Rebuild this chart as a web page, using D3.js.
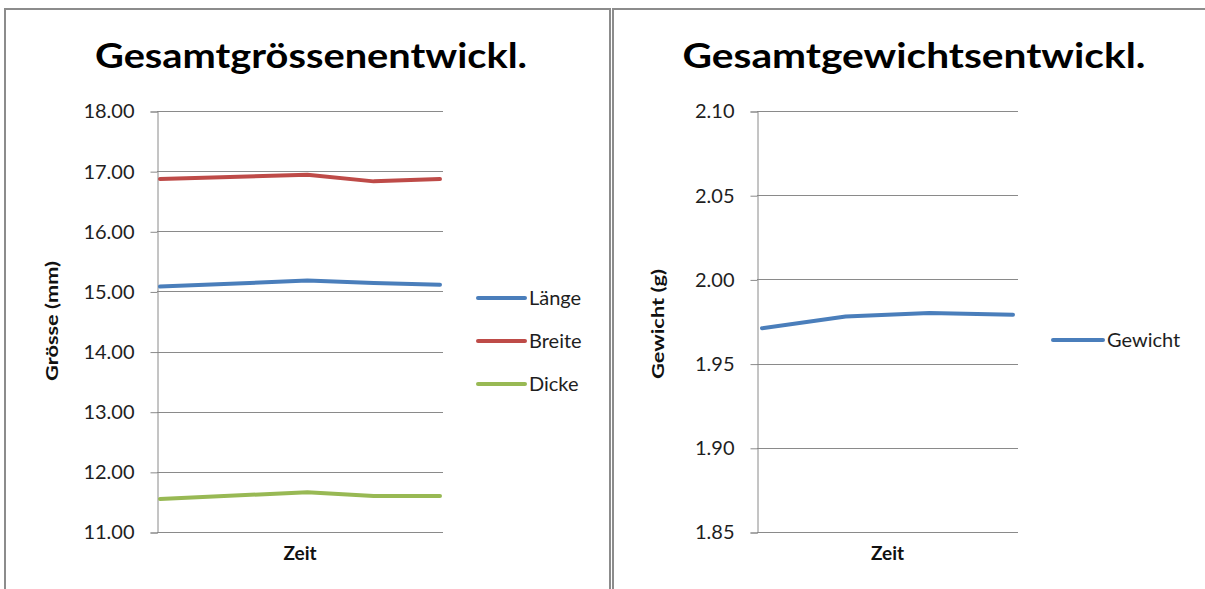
<!DOCTYPE html>
<html>
<head>
<meta charset="utf-8">
<script src="https://cdn.jsdelivr.net/npm/d3@7/dist/d3.min.js"></script>
<style>
  html, body { margin: 0; padding: 0; background: #ffffff; }
  svg { display: block; font-family: Lato, "Open Sans", sans-serif; }
</style>
</head>
<body>
<svg id="chart" width="1205" height="589"></svg>
<script>
// Messzeitpunkte (Tage) und Messwerte
const sizeDays = [0, 20, 29, 38];
const laenge = [15.08, 15.18, 15.14, 15.11];
const breite = [16.87, 16.94, 16.83, 16.87];
const dicke  = [11.55, 11.66, 11.60, 11.60];

const weightDays = [0, 10, 20, 30];
const gewicht = [1.971, 1.978, 1.980, 1.979];

const sizeTicks = [11, 12, 13, 14, 15, 16, 17, 18];
const weightTicks = [1.85, 1.90, 1.95, 2.00, 2.05, 2.10];

const sizeSeries = [
  { name: "Länge",  values: laenge, color: "#4a7ebb" },
  { name: "Breite", values: breite, color: "#be4b48" },
  { name: "Dicke",  values: dicke,  color: "#98b954" }
];
const weightSeries = [
  { name: "Gewicht", values: gewicht, color: "#4a7ebb" }
];

const svg = d3.select("#chart");
const gridColor = "#8a8a8a";

// Rahmen der beiden Diagramme
svg.append("rect").attr("x", 5).attr("y", 9).attr("width", 605).attr("height", 600)
  .attr("fill", "#fff").attr("stroke", "#8c8c8c").attr("stroke-width", 2);
svg.append("rect").attr("x", 613).attr("y", 9).attr("width", 610).attr("height", 600)
  .attr("fill", "#fff").attr("stroke", "#8c8c8c").attr("stroke-width", 2);

function drawPanel(cfg) {
  const g = svg.append("g");
  const x = d3.scaleLinear()
    .domain(d3.extent(cfg.days))
    .range([cfg.left + cfg.inset, cfg.right - cfg.inset]);
  const y = d3.scaleLinear()
    .domain([cfg.ticks[0], cfg.ticks[cfg.ticks.length - 1]])
    .range([cfg.bottom, cfg.top]);

  // Titel
  g.append("text")
    .attr("x", cfg.titleX).attr("y", 68)
    .attr("text-anchor", "middle")
    .attr("font-weight", "bold").attr("font-size", 34)
    .attr("textLength", cfg.titleWidth).attr("lengthAdjust", "spacingAndGlyphs")
    .attr("fill", "#000")
    .text(cfg.title);

  // Gitterlinien
  g.append("g").selectAll("line").data(cfg.ticks).join("line")
    .attr("x1", cfg.left).attr("x2", cfg.right)
    .attr("y1", d => Math.round(y(d)) + 0.5).attr("y2", d => Math.round(y(d)) + 0.5)
    .attr("stroke", gridColor).attr("stroke-width", 1);

  // Werteachse
  const yAxis = d3.axisLeft(y)
    .tickValues(cfg.ticks)
    .tickFormat(d3.format(".2f"))
    .tickSize(7)
    .tickPadding(16);
  const ya = g.append("g")
    .attr("transform", `translate(${cfg.left + 0.5},0.5)`)
    .call(yAxis);
  ya.select(".domain").attr("stroke", gridColor);
  ya.selectAll(".tick line").attr("stroke", gridColor);
  ya.selectAll(".tick text")
    .attr("font-size", 20).attr("fill", "#1e1e1e")
    .attr("font-family", "Lato, sans-serif");

  // Zeitachse
  g.append("line")
    .attr("x1", cfg.left).attr("x2", cfg.right)
    .attr("y1", cfg.bottom + 0.5).attr("y2", cfg.bottom + 0.5)
    .attr("stroke", gridColor);
  g.append("text")
    .attr("x", (cfg.left + cfg.right) / 2).attr("y", 560)
    .attr("text-anchor", "middle")
    .attr("font-weight", "bold").attr("font-size", 19)
    .attr("fill", "#111")
    .text("Zeit");

  // Achsentitel
  g.append("text")
    .attr("transform", `translate(${cfg.yTitleX},${cfg.yTitleY}) rotate(-90)`)
    .attr("text-anchor", "middle")
    .attr("font-weight", "bold").attr("font-size", 17)
    .attr("textLength", cfg.yTitleWidth).attr("lengthAdjust", "spacingAndGlyphs")
    .attr("fill", "#111")
    .text(cfg.yTitle);

  // Linien
  const line = d3.line()
    .x((d, i) => x(cfg.days[i]))
    .y(d => y(d));
  g.append("g").selectAll("path").data(cfg.series).join("path")
    .attr("d", s => line(s.values))
    .attr("fill", "none")
    .attr("stroke", s => s.color)
    .attr("stroke-width", 4)
    .attr("stroke-linejoin", "round")
    .attr("stroke-linecap", "round");

  // Legende
  const leg = g.append("g").selectAll("g").data(cfg.series).join("g")
    .attr("transform", (s, i) => `translate(${cfg.legX},${cfg.legY + i * 43})`);
  leg.append("line")
    .attr("x1", 0).attr("x2", cfg.legLen)
    .attr("y1", 0).attr("y2", 0)
    .attr("stroke", s => s.color).attr("stroke-width", 4)
    .attr("stroke-linecap", "round");
  leg.append("text")
    .attr("x", cfg.legLen + 4).attr("y", 7)
    .attr("font-size", 20).attr("fill", "#1e1e1e")
    .text(s => s.name);
}

drawPanel({
  title: "Gesamtgrössenentwickl.", titleX: 311, titleWidth: 432,
  days: sizeDays, ticks: sizeTicks, series: sizeSeries,
  left: 157, right: 443, top: 111, bottom: 532, inset: 3,
  yTitle: "Grösse (mm)", yTitleX: 58, yTitleY: 321, yTitleWidth: 120,
  legX: 478, legY: 298, legLen: 47
});

drawPanel({
  title: "Gesamtgewichtsentwickl.", titleX: 914, titleWidth: 463,
  days: weightDays, ticks: weightTicks, series: weightSeries,
  left: 757, right: 1018, top: 111, bottom: 532, inset: 5,
  yTitle: "Gewicht (g)", yTitleX: 664, yTitleY: 324, yTitleWidth: 110,
  legX: 1053, legY: 340, legLen: 50
});
</script>
</body>
</html>
